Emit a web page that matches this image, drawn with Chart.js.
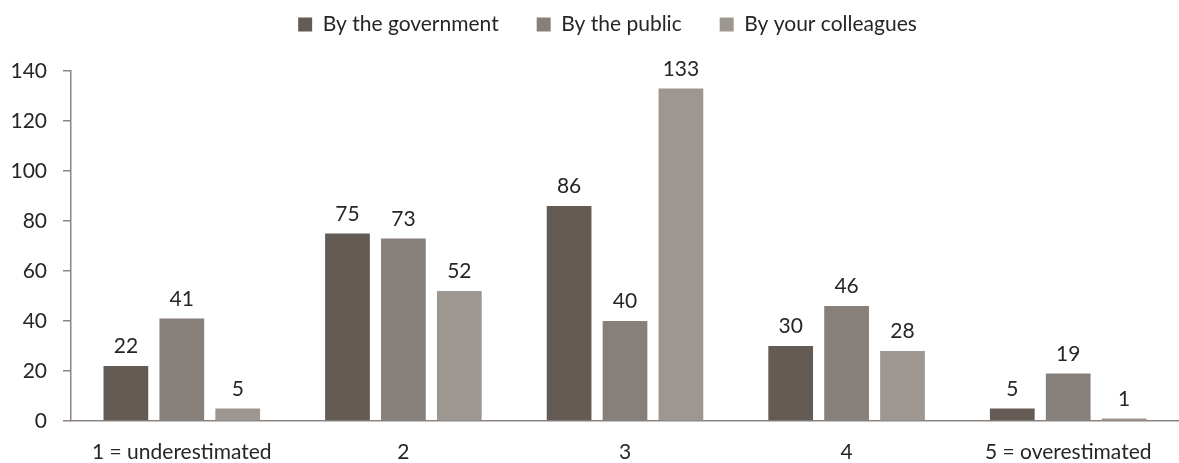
<!DOCTYPE html>
<html>
<head>
<meta charset="utf-8">
<script src="https://cdn.jsdelivr.net/npm/chart.js@4"></script>
<style>
  html, body { margin: 0; padding: 0; background: #fff; }
  #wrap { width: 1179px; height: 463px; }
</style>
</head>
<body>
<div id="wrap"><canvas id="estimateChart"></canvas></div>
<script>
// Estimates by rating
const categories = ['1 = underestimated', '2', '3', '4', '5 = overestimated'];
const governmentValues = [22, 75, 86, 30, 5];
const publicValues = [41, 73, 40, 46, 19];
const colleaguesValues = [5, 52, 133, 28, 1];
const yTicks = [0, 20, 40, 60, 80, 100, 120, 140];

const FONT = 'Lato, "Open Sans", sans-serif';
const SIZE = 21;
const TEXT = '#262626';
const LEGEND_GAP = 38;

// Draws the value above each bar
const valueLabels = {
    id: 'valueLabels',
    afterDatasetsDraw(chart) {
        const ctx = chart.ctx;
        ctx.save();
        ctx.font = SIZE + 'px ' + FONT;
        ctx.fillStyle = TEXT;
        ctx.textAlign = 'center';
        ctx.textBaseline = 'bottom';
        chart.data.datasets.forEach((ds, i) => {
            chart.getDatasetMeta(i).data.forEach((bar, j) => {
                ctx.fillText(ds.data[j], bar.x, bar.y - 9);
            });
        });
        ctx.restore();
    }
};

// Legend gaps are wide but it sits near the top, a little right of centre
const legendSpacing = {
    id: 'legendSpacing',
    beforeInit(chart) {
        const fit = chart.legend.fit;
        chart.legend.fit = function () {
            fit.call(this);
            this.height = 71;
        };
    },
    afterLayout(chart) {
        chart.legend.top -= LEGEND_GAP - 14;
        chart.legend.left += 36;
    }
};

new Chart(document.getElementById('estimateChart'), {
    type: 'bar',
    data: {
        labels: categories,
        datasets: [{
            label: 'By the government',
            data: governmentValues,
            backgroundColor: '#655b55'
        }, {
            label: 'By the public',
            data: publicValues,
            backgroundColor: '#877f79'
        }, {
            label: 'By your colleagues',
            data: colleaguesValues,
            backgroundColor: '#9e9690'
        }]
    },
    options: {
        responsive: true,
        maintainAspectRatio: false,
        animation: false,
        datasets: {
            bar: {
                categoryPercentage: 0.757,
                barPercentage: 0.8
            }
        },
        layout: {
            padding: 0
        },
        plugins: {
            legend: {
                position: 'top',
                labels: {
                    font: { family: FONT, size: SIZE },
                    color: TEXT,
                    boxWidth: 14,
                    boxHeight: 14,
                    padding: LEGEND_GAP
                }
            },
            tooltip: { enabled: false }
        },
        scales: {
            y: {
                min: 0,
                max: 140,
                afterBuildTicks(scale) {
                    scale.ticks = yTicks.map(v => ({ value: v }));
                },
                afterFit(scale) {
                    scale.width = 71;
                },
                border: { display: true, color: '#8c8480', width: 1.5 },
                grid: {
                    display: true,
                    drawOnChartArea: false,
                    drawTicks: true,
                    tickLength: 8,
                    color: '#8c8480',
                    lineWidth: 1.5
                },
                ticks: {
                    font: { family: FONT, size: SIZE },
                    color: TEXT,
                    padding: 16
                }
            },
            x: {
                afterFit(scale) {
                    scale.height = 42;
                },
                border: { display: true, color: '#8c8480', width: 1.5 },
                grid: { display: false },
                ticks: {
                    font: { family: FONT, size: SIZE },
                    color: TEXT,
                    padding: 11,
                    maxRotation: 0
                }
            }
        }
    },
    plugins: [valueLabels, legendSpacing]
});
</script>
</body>
</html>
